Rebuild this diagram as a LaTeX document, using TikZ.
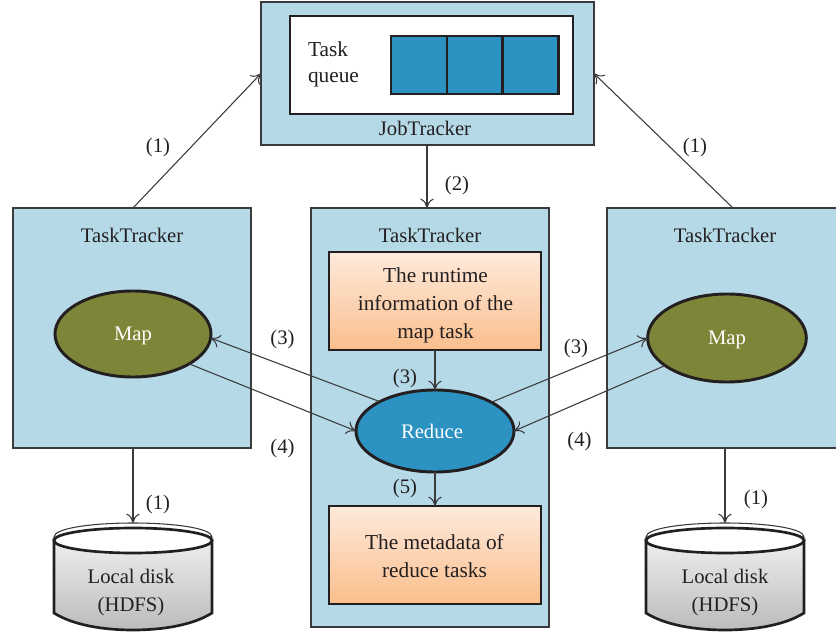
\documentclass[tikz,border=0pt]{standalone}
\usepackage{fontspec}
\setmainfont{Liberation Serif}
\usetikzlibrary{shapes.geometric,arrows.meta}
\definecolor{ink}{HTML}{231F20}
\definecolor{edge}{HTML}{3A3A3C}
\definecolor{paleblue}{HTML}{B5D9E6}
\definecolor{midblue}{HTML}{2B92C2}
\definecolor{olive}{HTML}{7D8638}
\definecolor{lightorange}{HTML}{FDEADC}
\definecolor{deeporange}{HTML}{FBBE8C}
\definecolor{disklight}{HTML}{EDEEEF}
\definecolor{diskdark}{HTML}{B9BBBD}
\tikzset{
  x=0.75pt,y=-0.75pt,
  every node/.style={font=\fontsize{15.5}{21}\selectfont,text=ink,inner sep=0pt,outer sep=0pt},
  tracker/.style={draw=edge,line width=1pt,fill=paleblue,rectangle},
  qbox/.style={draw=ink,line width=2.2pt,fill=white,rectangle},
  cell/.style={draw=ink,line width=2.2pt,fill=midblue,rectangle,minimum width=42pt,minimum height=43.5pt},
  infobox/.style={draw=ink,line width=2.2pt,rectangle,minimum width=159pt,minimum height=73.5pt},
  infotext/.style={align=center,font=\fontsize{16}{21}\selectfont},
  oval/.style={ellipse,draw=ink,line width=2.2pt},
  ovaltext/.style={text=white},
  conn/.style={draw=edge,line width=0.8pt,-{To[length=7pt,width=10pt,line width=0.8pt]}},
  numlabel/.style={},
  diskwall/.style={draw=ink,line width=2pt,top color=disklight,bottom color=diskdark},
}
\newcommand{\diskdraw}[3]{%
  \coordinate (#1-rim) at (#2,523);
  \path[draw=edge,line width=0.8pt,fill=white] (#2-79,537) .. controls (#2-79,528) and (#2-40,523) .. (#2,523) .. controls (#2+40,523) and (#2+79,528) .. (#2+79,537) -- (#2-79,541) -- cycle;
  \path[diskwall] (#2-79,540) -- (#2-79,613) .. controls (#2-60,625) and (#2-30,630) .. (#2,630) .. controls (#2+30,630) and (#2+60,625) .. (#2+79,613) -- (#2+79,540) -- cycle;
  \path[draw=ink,line width=2pt,fill=white] (#2,540.5) ellipse [x radius=79,y radius=12.5];
  \node[align=center] (#1) at (#3,593) {Local disk\\(HDFS)};
}
\begin{document}
\begin{tikzpicture}
\useasboundingbox (0,0) rectangle (836,635);
\clip (0,0) rectangle (836,635);
% job tracker
\node[tracker,minimum width=249.75pt,minimum height=107.25pt] (job) at (427.5,73.5) {};
\node[qbox,minimum width=212.25pt,minimum height=73.5pt] (queue) at (431.5,65) {};
\node[align=left,anchor=west,font=\fontsize{16}{19.5}\selectfont] (qtext) at (308,64.5) {Task\\queue};
\node[cell] (c1) at (419,65) {};
\node[cell] (c2) at (475,65) {};
\node[cell] (c3) at (530.5,65) {};
\node (jobt) at (425,128) {JobTracker};
% trackers
\node[tracker,minimum width=178.5pt,minimum height=180pt] (ttl) at (132,328) {};
\node[tracker,minimum width=178.5pt,minimum height=314.25pt] (ttc) at (430,417.5) {};
\node[tracker,minimum width=178.5pt,minimum height=180pt] (ttr) at (726,328) {};
\node (ttlt) at (132,235) {TaskTracker};
\node (ttct) at (430,235) {TaskTracker};
\node (ttrt) at (725,235) {TaskTracker};
% info boxes
\node[infobox,top color=lightorange,bottom color=deeporange] (run) at (435,301) {};
\node[infotext] (runt) at (435.5,305) {The runtime\\information of the\\map task};
\node[infobox,top color=lightorange,bottom color=deeporange] (meta) at (435,555) {};
\node[infotext] (metat) at (434.5,556) {The metadata of\\reduce tasks};
% ovals
\node[oval,fill=olive,minimum width=117pt,minimum height=64.5pt] (mapl) at (133,334) {};
\node[ovaltext] (maplt) at (133,336) {Map};
\node[oval,fill=midblue,minimum width=118.5pt,minimum height=61.5pt] (red) at (435,431) {};
\node[ovaltext] (redt) at (432,431) {Reduce};
\node[oval,fill=olive,minimum width=119pt,minimum height=66pt] (mapr) at (727,338) {};
\node[ovaltext] (maprt) at (727,340) {Map};
% disks
\diskdraw{dl}{133}{131}
\diskdraw{dr}{725}{725}
% free ends on box borders
\coordinate (jobw) at (job.west);
\coordinate (jobe) at (job.east);
\coordinate (tlt) at (133,208);
\coordinate (trt) at (733,208);
\coordinate (tlb) at (133,448);
\coordinate (trb) at (725,448);
\coordinate (jb) at (427,145);
\coordinate (ct) at (427,208);
\coordinate (rb) at (435,350);
\coordinate (mt) at (435,506);
% connectors
\draw[conn] (tlt) -- (jobw);
\draw[conn] (trt) -- (jobe);
\draw[conn] (jb) -- (ct);
\draw[conn] (tlb) -- (dl-rim);
\draw[conn] (trb) -- (dr-rim);
\draw[conn] (rb) -- (red.north);
\draw[conn] (red.south) -- (mt);
\draw[conn] (red.152) -- (mapl.357);
\draw[conn] (mapl.332) -- (red.west);
\draw[conn] (red.27) -- (mapr.west);
\draw[conn] (mapr.204) -- (red.east);
% labels
\node[numlabel] (l1) at (158,148) {(1)};
\node[numlabel] (l2) at (695,148) {(1)};
\node[numlabel] (l3) at (457,186) {(2)};
\node[numlabel] (l4) at (282.5,340) {(3)};
\node[numlabel] (l5) at (282.5,449) {(4)};
\node[numlabel] (l6) at (405,379) {(3)};
\node[numlabel] (l7) at (405,489) {(5)};
\node[numlabel] (l8) at (576,349) {(3)};
\node[numlabel] (l9) at (579.5,442) {(4)};
\node[numlabel] (l10) at (158,505) {(1)};
\node[numlabel] (l11) at (756,500) {(1)};
\end{tikzpicture}
\end{document}
